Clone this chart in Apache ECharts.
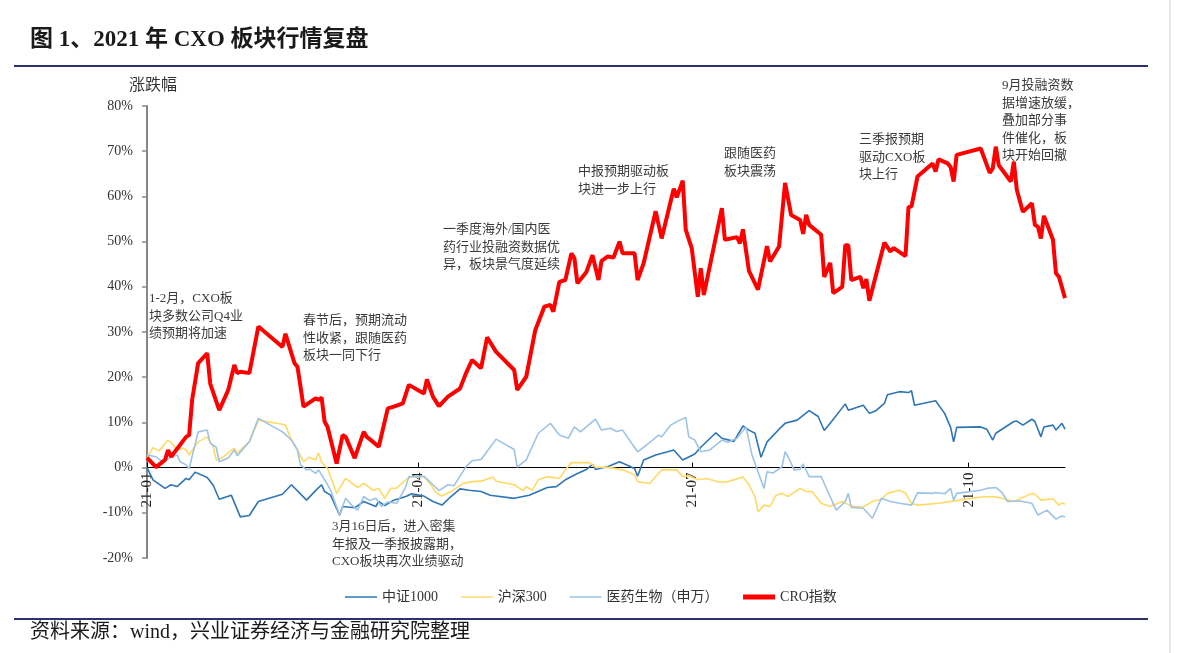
<!DOCTYPE html>
<html><head><meta charset="utf-8">
<script src="https://cdn.jsdelivr.net/npm/echarts@6/dist/echarts.min.js"></script>
<style>html,body{margin:0;padding:0;background:#fff}#c{width:1181px;height:653px}</style>
</head><body><div id="c"></div>
<script>
const YEAR = 2021;
const tickDates = ['01-04','04-04','07-04','10-04'];
const tickLabels = ['21-01','21-04','21-07','21-10'];
const seriesNames = ['中证1000','沪深300','医药生物（申万）','CRO指数'];

const zz1000Dates = ['01-04','01-06','01-10','01-12','01-14','01-17','01-18','01-20','01-24','01-26','01-28','02-01','02-04','02-07','02-10','02-18','02-21','02-26','03-01','03-03','03-04','03-06','03-09','03-10','03-14','03-17','03-21','03-22','03-24','03-27','03-31','04-02','04-06','04-09','04-12','04-15','04-18','04-21','04-25','04-28','05-06','05-11','05-17','05-20','05-23','05-27','05-30','06-01','06-02','06-06','06-10','06-15','06-16','06-18','06-22','06-26','06-28','07-01','07-05','07-07','07-12','07-14','07-18','07-21','07-23','07-25','07-27','07-29','08-02','08-04','08-08','08-12','08-15','08-17','08-19','08-24','08-25','08-30','09-01','09-03','09-06','09-07','09-11','09-14','09-15','09-16','09-23','09-26','09-28','09-29','09-30','10-08','10-10','10-12','10-13','10-19','10-20','10-22','10-25','10-26','10-28','10-29','11-01','11-02','11-04','11-05'];
const zz1000Values = [0.0,-2.7,-4.6,-3.8,-4.2,-2.4,-2.7,-1.0,-2.2,-3.9,-7.0,-6.1,-10.9,-10.6,-7.5,-5.9,-3.8,-7.2,-5.1,-3.8,-5.3,-6.1,-10.5,-8.6,-8.9,-7.5,-8.6,-7.5,-8.4,-7.2,-6.4,-5.8,-6.3,-7.5,-8.3,-6.4,-4.7,-5.0,-5.3,-6.1,-6.8,-6.1,-4.4,-4.2,-2.7,-1.3,-0.4,0.7,-0.4,0.2,1.3,-0.2,-1.9,1.7,2.8,3.5,3.9,1.7,3.0,4.5,7.7,6.5,5.8,9.2,8.3,7.6,2.3,5.7,8.5,9.8,10.5,12.6,11.3,8.2,9.8,14.1,12.7,13.8,12.0,12.5,14.2,16.1,16.8,16.6,17.0,13.8,14.8,12.0,8.9,5.7,8.9,9.0,8.5,6.1,7.6,10.2,10.3,9.4,10.7,10.2,6.8,9.0,9.4,8.3,9.8,8.5];

const hs300Dates = ['01-04','01-06','01-08','01-11','01-12','01-14','01-16','01-17','01-18','01-19','01-21','01-24','01-26','01-27','01-29','02-02','02-03','02-05','02-07','02-10','02-18','02-19','02-21','02-23','02-25','02-27','03-01','03-02','03-03','03-05','03-08','03-11','03-15','03-17','03-20','03-22','03-24','03-26','03-28','03-31','04-02','04-06','04-08','04-10','04-12','04-15','04-19','04-22','04-25','04-29','04-30','05-06','05-09','05-10','05-12','05-14','05-17','05-21','05-23','05-25','05-31','06-02','06-07','06-11','06-15','06-16','06-20','06-24','06-29','07-01','07-03','07-06','07-09','07-13','07-16','07-21','07-23','07-25','07-26','07-28','07-30','08-01','08-03','08-05','08-09','08-11','08-13','08-16','08-19','08-23','08-25','08-27','08-30','09-02','09-05','09-07','09-11','09-13','09-15','09-17','09-24','09-30','10-08','10-12','10-14','10-19','10-25','10-26','10-28','11-01','11-03','11-04','11-05'];
const hs300Values = [2.0,4.4,3.7,6.1,5.6,3.9,4.3,3.9,2.8,3.8,5.7,6.8,4.6,1.7,2.2,4.3,3.2,4.5,5.7,10.5,9.6,9.4,6.1,3.9,1.3,2.3,1.7,3.3,1.2,-0.2,-5.7,-2.4,-4.4,-3.5,-5.0,-4.6,-6.8,-4.6,-4.5,-2.7,-2.0,-2.0,-3.5,-5.5,-6.3,-5.3,-3.5,-3.1,-3.0,-2.1,-3.0,-3.8,-5.1,-4.2,-5.0,-2.7,-2.0,-2.4,-0.5,1.1,1.1,0.1,0.0,-0.5,-1.6,-3.1,-3.5,-0.5,-0.5,-2.0,-1.8,-2.7,-2.4,-3.2,-3.1,-2.1,-3.8,-6.4,-9.8,-8.3,-8.6,-6.1,-5.7,-6.4,-4.6,-5.3,-5.3,-7.9,-8.6,-7.5,-8.2,-8.6,-8.7,-7.5,-7.0,-5.7,-5.0,-5.6,-7.9,-8.3,-7.9,-7.3,-6.5,-6.4,-6.6,-7.5,-5.7,-5.9,-7.2,-6.9,-8.3,-7.8,-8.1];

const yyswDates = ['01-04','01-07','01-09','01-12','01-14','01-15','01-17','01-18','01-21','01-24','01-25','01-27','01-28','01-31','02-02','02-03','02-05','02-07','02-10','02-18','02-21','02-23','02-24','02-26','02-27','03-01','03-02','03-05','03-06','03-09','03-11','03-13','03-15','03-17','03-19','03-21','03-23','03-25','03-28','03-31','04-01','04-04','04-06','04-09','04-11','04-14','04-16','04-20','04-22','04-25','04-30','05-06','05-07','05-10','05-14','05-18','05-21','05-24','05-26','05-28','06-02','06-04','06-07','06-09','06-11','06-16','06-19','06-23','06-24','06-27','06-30','07-02','07-03','07-05','07-07','07-10','07-14','07-16','07-19','07-22','07-24','07-26','07-28','07-29','07-31','08-03','08-04','08-05','08-07','08-09','08-10','08-12','08-16','08-18','08-21','08-24','08-25','08-26','08-30','09-02','09-05','09-08','09-11','09-15','09-17','09-22','09-23','09-26','09-28','09-29','09-30','10-08','10-10','10-13','10-15','10-17','10-21','10-25','10-27','10-30','11-02','11-04','11-05'];
const yyswValues = [2.8,2.4,1.3,2.3,2.8,1.3,0.6,-0.2,7.9,8.3,5.4,4.5,1.3,2.1,3.9,2.6,4.2,5.7,10.9,7.9,6.1,3.9,0.6,-0.5,-0.3,-1.3,-0.5,-3.8,-5.0,-10.5,-6.8,-8.3,-9.4,-6.4,-7.3,-6.8,-8.6,-7.6,-7.9,-4.2,-2.0,-2.0,-1.9,-3.8,-5.1,-3.8,-4.0,0.2,1.5,1.8,6.3,4.0,0.1,1.7,7.6,9.8,7.2,6.5,9.0,7.9,10.7,8.3,8.7,8.0,8.3,3.5,5.0,7.2,6.8,9.4,10.5,11.1,6.8,6.1,3.5,3.9,6.1,5.6,6.5,9.0,2.8,-0.9,-4.6,-0.9,-1.2,0.2,3.5,2.4,-0.5,-0.4,0.8,-2.0,-2.0,-5.0,-9.4,-7.5,-5.7,-8.8,-9.0,-11.2,-6.8,-7.5,-7.9,-8.3,-5.6,-5.7,-5.5,-5.8,-4.6,-7.2,-5.7,-5.0,-4.6,-4.4,-5.5,-7.5,-7.4,-7.9,-10.5,-9.4,-11.4,-10.7,-10.9];

const croDates = ['01-04','01-07','01-10','01-11','01-12','01-17','01-18','01-19','01-21','01-24','01-25','01-28','01-31','02-02','02-03','02-04','02-07','02-10','02-18','02-19','02-22','02-23','02-25','03-01','03-02','03-03','03-04','03-05','03-08','03-10','03-11','03-14','03-17','03-18','03-19','03-22','03-25','03-27','03-30','04-01','04-06','04-07','04-09','04-11','04-14','04-18','04-20','04-22','04-25','04-27','04-30','05-06','05-07','05-10','05-13','05-16','05-18','05-19','05-21','05-23','05-25','05-26','05-27','05-30','06-01','06-03','06-04','06-06','06-08','06-10','06-11','06-15','06-16','06-18','06-22','06-24','06-28','06-29','07-01','07-02','07-04','07-06','07-07','07-08','07-14','07-15','07-19','07-20','07-21','07-23','07-26','07-29','07-30','08-02','08-04','08-06','08-09','08-10','08-11','08-12','08-16','08-17','08-19','08-20','08-23','08-24','08-25','08-26','08-29','08-30','08-31','09-01','09-06','09-08','09-09','09-13','09-14','09-15','09-17','09-22','09-23','09-24','09-27','09-28','09-29','09-30','10-08','10-11','10-12','10-13','10-14','10-18','10-19','10-20','10-22','10-25','10-26','10-27','10-28','10-29','11-01','11-02','11-03','11-05'];
const croValues = [2.2,0.1,1.7,3.9,2.4,6.8,7.2,15.0,23.1,25.3,18.6,12.7,17.2,22.7,20.9,21.2,20.9,31.2,26.7,29.6,23.1,22.3,13.5,15.3,15.0,15.5,10.2,9.0,0.9,7.2,6.8,2.1,7.9,6.8,6.3,4.6,13.1,13.5,14.2,18.3,16.4,19.5,15.7,13.6,15.7,17.5,20.9,23.8,22.0,28.8,25.6,21.6,17.2,20.1,30.4,35.6,36.0,34.5,41.1,41.5,47.4,46.3,40.8,43.3,47.0,41.5,45.7,46.7,46.5,50.0,47.4,47.4,41.5,45.2,56.7,50.7,61.7,59.8,63.5,52.6,48.5,37.8,44.1,38.2,57.4,50.4,51.0,49.6,52.7,43.5,39.4,49.0,45.6,48.9,63.0,55.9,54.8,51.7,55.9,53.7,51.5,42.2,45.3,38.6,40.0,49.2,49.2,41.5,42.2,39.7,41.7,36.9,49.8,47.8,48.6,46.8,57.6,57.8,64.4,67.3,65.5,68.2,67.3,66.5,63.3,69.2,70.6,65.2,66.2,71.0,66.9,63.3,67.7,61.4,56.6,58.5,53.7,53.3,50.7,55.7,50.4,43.0,42.2,37.5];

const yTicks = {min: -20, max: 80, interval: 10};
const annotations = [
  {text: '1-2月，CXO板\n块多数公司Q4业\n绩预期将加速', x: 149, y: 290},
  {text: '春节后，预期流动\n性收紧，跟随医药\n板块一同下行', x: 303, y: 312},
  {text: '3月16日后，进入密集\n年报及一季报披露期，\nCXO板块再次业绩驱动', x: 332, y: 518},
  {text: '一季度海外/国内医\n药行业投融资数据优\n异，板块景气度延续', x: 443, y: 221},
  {text: '中报预期驱动板\n块进一步上行', x: 578, y: 163},
  {text: '跟随医药\n板块震荡', x: 724, y: 145},
  {text: '三季报预期\n驱动CXO板\n块上行', x: 859, y: 131},
  {text: '9月投融资数\n据增速放缓，\n叠加部分事\n件催化，板\n块开始回撤', x: 1002, y: 77}
];

const ts = md => { const p = md.split('-').map(Number); return new Date(YEAR, p[0]-1, p[1]).getTime(); };
const pair = (dates, vals) => dates.map((d, i) => [ts(d), vals[i]]);
const tickTs = tickDates.map(ts);

const GRID = {left: 147, right: 116, top: 106, bottom: 95};
const plotH = 653 - GRID.top - GRID.bottom;
// move the date axis up to the 0% line
const zeroOffset = -plotH * (0 - yTicks.min) / (yTicks.max - yTicks.min);

const SERIF = "'Liberation Serif','Noto Sans CJK SC',serif";
const chart = echarts.init(document.getElementById('c'), null, {renderer: 'canvas'});

const styles = [
  {color: '#2E75B6', width: 1.6, z: 2},
  {color: '#FFD966', width: 1.6, z: 2},
  {color: '#9DC3E6', width: 1.6, z: 2},
  {color: '#FF0000', width: 4, z: 3}
];
const mk = (i, dates, vals) => ({
  name: seriesNames[i], type: 'line', data: pair(dates, vals), symbol: 'none', showSymbol: false,
  lineStyle: {color: styles[i].color, width: styles[i].width}, itemStyle: {color: styles[i].color},
  z: styles[i].z, emphasis: {disabled: true}
});

chart.setOption({
  animation: false,
  backgroundColor: '#fff',
  grid: Object.assign({containLabel: false}, GRID),
  xAxis: {
    type: 'value', min: ts('01-04'), max: ts('11-05'), scale: true,
    position: 'bottom', offset: zeroOffset,
    axisLine: {onZero: false, lineStyle: {color: '#000', width: 1}},
    axisTick: {show: true, inside: true, length: 5, customValues: tickTs, lineStyle: {color: '#000'}},
    axisLabel: {customValues: tickTs, rotate: 90, margin: 5, fontSize: 15, color: '#222', fontFamily: SERIF,
      formatter: v => { const i = tickTs.indexOf(v); return i >= 0 ? tickLabels[i] : ''; }},
    splitLine: {show: false}
  },
  yAxis: {
    type: 'value', min: yTicks.min, max: yTicks.max, interval: yTicks.interval,
    name: '涨跌幅', nameLocation: 'end', nameGap: 12,
    nameTextStyle: {fontSize: 16, color: '#333', fontFamily: SERIF, align: 'left', padding: [0, 0, 0, -18]},
    axisLine: {show: true, lineStyle: {color: '#868686', width: 2}},
    axisTick: {show: true, length: 5, lineStyle: {color: '#868686', width: 1.5}},
    axisLabel: {formatter: '{value}%', fontSize: 14, color: '#333', fontFamily: SERIF, margin: 14},
    splitLine: {show: false}
  },
  legend: {
    data: seriesNames.map((n, i) => ({name: n, lineStyle: {width: styles[i].width === 4 ? 5 : 1.6}})),
    left: 'center', top: 585, itemWidth: 32, itemHeight: 12, itemGap: 22,
    itemStyle: {opacity: 0},
    textStyle: {fontSize: 14, color: '#333', fontFamily: SERIF}
  },
  series: [
    mk(0, zz1000Dates, zz1000Values),
    mk(1, hs300Dates, hs300Values),
    mk(2, yyswDates, yyswValues),
    mk(3, croDates, croValues)
  ],
  graphic: [
    {type: 'text', x: 30, y: 29, style: {text: '图 1、2021 年 CXO 板块行情复盘', font: "bold 23px 'Liberation Serif','Noto Sans CJK SC',serif", fill: '#1a1a1a'}},
    {type: 'line', shape: {x1: 14, y1: 66, x2: 1148, y2: 66}, style: {stroke: '#2E3070', lineWidth: 2}},
    {type: 'line', shape: {x1: 14, y1: 619, x2: 1148, y2: 619}, style: {stroke: '#2E3070', lineWidth: 2}},
    {type: 'line', shape: {x1: 1170, y1: 0, x2: 1170, y2: 653}, style: {stroke: '#cfcfcf', lineWidth: 1}},
    {type: 'text', x: 30, y: 623, style: {text: '资料来源：wind，兴业证券经济与金融研究院整理', font: "20px 'Liberation Serif','Noto Sans CJK SC',serif", fill: '#1a1a1a'}},
    ...annotations.map(a => ({type: 'text', x: a.x, y: a.y, z: 10,
      style: {text: a.text, font: "13px 'Liberation Serif','Noto Sans CJK SC',serif", fill: '#3a3a3a', lineHeight: 17.5, verticalAlign: 'top'}}))
  ]
});
</script></body></html>
